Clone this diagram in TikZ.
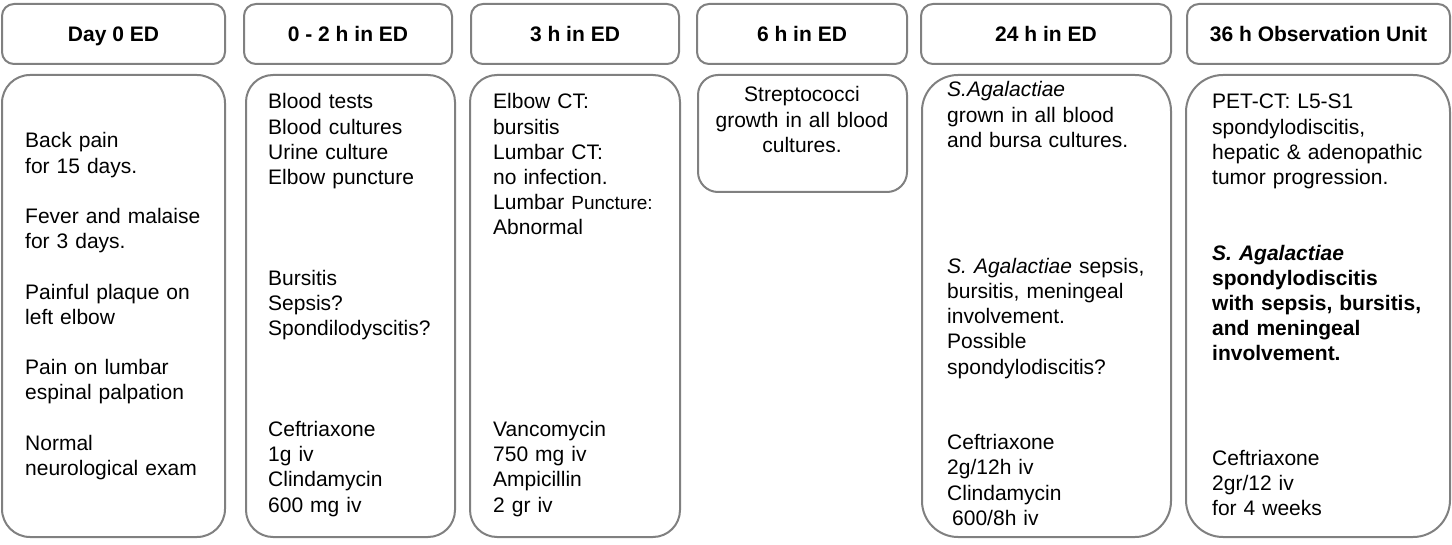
\documentclass[tikz,border=0pt]{standalone}
\usepackage{fontspec}
\setmainfont{Liberation Sans}
\definecolor{boxgray}{RGB}{128,128,128}
\begin{document}
\begin{tikzpicture}[x=1pt,y=-1pt,
        hdr/.style={draw=boxgray,line width=2pt,rounded corners=12pt,inner sep=0pt,text height=16pt,text depth=0pt,font=\bfseries\fontsize{21}{25.2}\selectfont},
        bdy/.style={draw=boxgray,line width=2pt,inner sep=0pt},
        txt/.style={anchor=base west,inner sep=0pt,align=left,font=\fontsize{21}{25.2}\selectfont}]
            \useasboundingbox(0,0)rectangle(1452,545);
            \foreach \n/\xa/\xb/\lbl in{1/1/226/Day 0 ED,2/243/453/0 - 2 h in ED,3/470/680/3 h in ED,4/696/908/6 h in ED,5/920/1172/24 h in ED,6/1186/1451/36 h Observation Unit}
                \node[hdr,minimum width=\xb-\xa-2,minimum height=60](hd\n)at({(\xa+\xb)/2},34){\lbl};
            \foreach \n/\xa/\xb/\yb/\r in{1/1/226/537/28,2/245/456/537/27,3/469/681/537/27,4/697/908/192/20,5/921/1172/537/36,6/1185/1451/537/37}
                \node[bdy,rounded corners=\r pt,minimum width=\xb-\xa-2,minimum height=\yb-75,anchor=north](bd\n)at({(\xa+\xb)/2},74){};
            \node[txt,text width=200pt](tx1)at(25,148){Back pain\\for 15 days.\\[\baselineskip]Fever and malaise\\for 3 days.\\[\baselineskip]Painful plaque on\\left elbow\\[\baselineskip]Pain on lumbar\\espinal palpation\\[\baselineskip]Normal\\neurological exam};
            \node[txt,text width=185pt](tx2)at(268,109){Blood tests\\Blood cultures\\Urine culture\\Elbow puncture\\[3\baselineskip]Bursitis\\Sepsis?\\Spondilodyscitis?\\[3\baselineskip]Ceftriaxone\\1g iv\\Clindamycin\\600 mg iv};
            \node[txt,text width=185pt](tx3)at(493,109){Elbow CT:\\bursitis\\Lumbar CT:\\no infection.\\Lumbar {\fontsize{19}{25.2}\selectfont Puncture:}\\Abnormal\\[7\baselineskip]Vancomycin\\750 mg iv\\Ampicillin\\2 gr iv};
            \node[txt,anchor=base,align=center,text width=205pt](tx4)at(802,102){Streptococci\\growth in all blood\\cultures.};
            \node[txt,text width=222pt](tx5)at(947,97){\textit{S.Agalactiae}\\grown in all blood\\and bursa cultures.\\[4\baselineskip]\textit{S. Agalactiae} sepsis,\\bursitis, meningeal\\involvement.\\Possible\\spondylodiscitis?\\[2\baselineskip]Ceftriaxone\\2g/12h iv\\Clindamycin\\\hspace*{5pt}600/8h iv};
            \node[txt,text width=236pt](tx6)at(1212,109){PET-CT: L5-S1\\spondylodiscitis,\\hepatic \& adenopathic\\tumor progression.\\[2\baselineskip]\textbf{\textit{S. Agalactiae}}\\\textbf{spondylodiscitis}\\\textbf{with sepsis, bursitis,}\\\textbf{and meningeal}\\\textbf{involvement.}\\[3.15\baselineskip]Ceftriaxone\\2gr/12 iv\\for 4 weeks};
        \end{tikzpicture}
\end{document}
